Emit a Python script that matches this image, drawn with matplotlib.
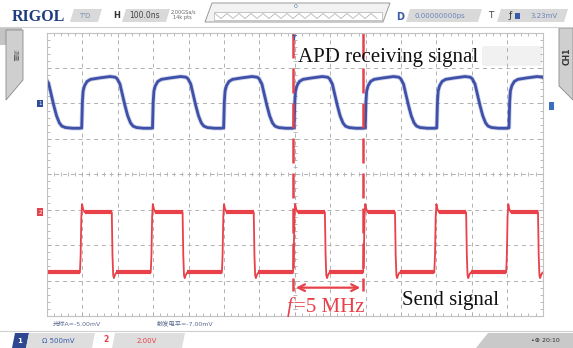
"""Rigol scope screenshot: APD receiving signal vs send signal at 5 MHz."""
import numpy as np
import matplotlib.pyplot as plt
from matplotlib.patches import Polygon, Rectangle, FancyBboxPatch

plt.rcParams['font.family'] = ['DejaVu Sans', 'Noto Sans CJK SC']

# time axis: 100 ns/div, 14 divisions; vertical: 8 divisions
t_span = (-700, 700)
v_span = (-4, 4)

# CH1 (APD) one period, relative to its rising edge: time ns, level div
blue_shape_t = [0, 2, 4, 8, 15, 25, 50, 80, 95, 100, 108, 115, 122, 130, 138, 145, 155, 175, 195]
blue_shape_v = [1.31, 2.05, 2.35, 2.5, 2.62, 2.68, 2.72, 2.76, 2.74, 2.7, 2.55, 2.25, 1.95,
                1.65, 1.45, 1.36, 1.32, 1.30, 1.30]
blue_rises = [-803, -602, -402, -201, -2, 199, 401, 605]

# CH2 (send) one period, relative to its rising edge
red_shape_t = [0, 2, 4, 6, 9, 13, 90, 92, 94, 96, 99, 103, 195]
red_shape_v = [-2.77, -2.3, -1.2, -0.84, -0.98, -1.07, -1.07, -2.3, -2.85, -2.93, -2.84, -2.77, -2.77]
red_rises = [-808, -607, -407, -206, -5, 193, 394, 597]
red_high, red_low = -1.07, -2.77

cursor_t = [-5, 193]
ch1_ref, ch2_ref = 2.0, -1.07

blue_t = np.concatenate([r + np.array(blue_shape_t) for r in blue_rises])
blue_v = np.tile(blue_shape_v, len(blue_rises))
red_t = np.concatenate([r + np.array(red_shape_t) for r in red_rises])
red_v = np.tile(red_shape_v, len(red_rises))

BLUE = '#3e50a8'
RED = '#e8414a'
GRID = '#b0b0b0'

fig = plt.figure(figsize=(5.73, 3.48), dpi=100)
ui = fig.add_axes([0, 0, 1, 1])
ui.set_xlim(0, 573)
ui.set_ylim(348, 0)
ui.axis('off')


def tab(x0, x1, y0, y1, s, fc='#d9d9d9', ec='none'):
    ui.add_patch(Polygon([(x0, y1), (x0 + s, y0), (x1 + s, y0), (x1, y1)],
                         closed=True, fc=fc, ec=ec, lw=0.6))


# ---- top status bar ----
ui.text(12, 17, 'RIGOL', family='Liberation Serif', weight='bold', fontsize=11.5,
        color='#1f3d7e', va='center')
tab(70, 98, 9, 22, 4)
ui.text(85, 16, "T'D", fontsize=5, color='#8090b0', ha='center', va='center')
ui.text(117, 16, 'H', fontsize=6, weight='bold', color='#333333', ha='center', va='center')
tab(122, 166, 9, 22, 4)
ui.text(145, 16, '100.0ns', fontsize=5.5, color='#444444', ha='center', va='center')
ui.text(171, 12, '2.00GSa/s', fontsize=3.6, color='#666666', va='center')
ui.text(173, 18, '14k pts', fontsize=3.6, color='#666666', va='center')
ui.add_patch(Polygon([(205, 22), (212, 3), (390, 3), (383, 22)], closed=True,
                     fc='#f2f2f2', ec='#9a9a9a', lw=0.7))
ui.add_patch(Rectangle((214, 12), 168, 8, fc='white', ec='#b0b0b0', lw=0.5))
zig_x = np.arange(215, 382, 6)
ui.plot(zig_x, np.where(np.arange(len(zig_x)) % 2 == 0, 13.5, 18.5), color='#b5b5b5', lw=0.6)
ui.text(296, 7, '0', fontsize=4.5, color='#6078a8', ha='center', va='center')
ui.text(400, 17, 'D', fontsize=7, color='#3a5aa8', ha='center', va='center', weight='bold')
tab(406, 478, 9, 22, 4)
ui.text(440, 16, '0.00000000ps', fontsize=5, color='#6a84bb', ha='center', va='center')
ui.text(491, 16, 'T', fontsize=6.5, color='#444444', ha='center', va='center')
tab(497, 564, 9, 22, 4)
ui.text(510, 16, 'ƒ', fontsize=6.5, color='#333333', ha='center', va='center')
ui.add_patch(Rectangle((515, 12.5), 5, 6, fc='#3a5aa8'))
ui.text(530, 16, '3.23mV', fontsize=5, color='#6a84bb', va='center')
ui.plot([0, 573], [27, 27], color='#d0d0d0', lw=0.8)

# ---- side tabs ----
ui.add_patch(Rectangle((0, 27), 22, 18, fc='#c4c4c4'))
ui.add_patch(Polygon([(6, 30), (23, 30), (23, 80), (6, 100)], closed=True,
                     fc='#cfcfcf', ec='#8a8a8a', lw=0.6))
ui.text(14, 55, '测量', fontsize=4.5, color='#666666', rotation=270,
        ha='center', va='center')
ui.add_patch(Polygon([(559, 28), (573, 28), (573, 100), (559, 86)], closed=True,
                     fc='#cfcfcf', ec='#8a8a8a', lw=0.6))
ui.text(567, 56, 'CH1', fontsize=5.5, weight='bold', color='#333333', rotation=90,
        ha='center', va='center')

# ---- bottom bar ----
ui.text(53, 324, '光标A=-5.00mV', fontsize=4.5, color='#5a6a90', va='center')
ui.text(157, 324, '触发电平=-7.00mV', fontsize=4.5, color='#5a6a90', va='center')
ui.plot([0, 573], [331, 331], color='#cfcfcf', lw=0.8)
tab(12, 26, 333, 348, 3, fc='#2d4790')
ui.text(20, 341, '1', fontsize=5, color='white', ha='center', va='center', weight='bold')
tab(26, 92, 333, 348, 3, fc='#dedede')
ui.text(42, 341, 'Ω 500mV', fontsize=5, color='#3a5aa8', va='center')
ui.text(106, 340, '2', fontsize=5.5, color=RED, ha='center', va='center', weight='bold')
tab(112, 182, 333, 348, 3, fc='#dedede')
ui.text(147, 341, '2.00V', fontsize=5, color=RED, ha='center', va='center')
ui.add_patch(Polygon([(476, 348), (488, 333), (573, 333), (573, 348)], closed=True,
                     fc='#c9c9c9'))
ui.text(560, 341, '•⊕ 20:10', fontsize=4.5, color='#333333', ha='right', va='center')

# smudge after the APD label
ui.add_patch(FancyBboxPatch((484, 48), 56, 16, boxstyle='round,pad=2',
                            fc='#eeeeee', ec='none', alpha=0.8))

# ---- graticule ----
ax = fig.add_axes([47 / 573, 1 - 316 / 348, (542.6 - 47) / 573, (316 - 32.6) / 348])
ax.set_facecolor('none')
ax.set_xlim(*t_span)
ax.set_ylim(*v_span)
ax.set_xticks(np.arange(-700, 701, 100))
ax.set_yticks(np.arange(-4, 5, 1))
ax.set_xticks(np.arange(-700, 701, 20), minor=True)
ax.set_yticks(np.arange(-4, 4.01, 0.2), minor=True)
ax.tick_params(which='both', direction='in', top=True, right=True, color=GRID,
               labelbottom=False, labelleft=False, width=0.6)
ax.tick_params(which='major', length=3)
ax.tick_params(which='minor', length=2)
for sp in ax.spines.values():
    sp.set_color('#c2c2c2')
    sp.set_linewidth(0.8)
for tv in np.arange(-600, 601, 100):
    ax.axvline(tv, color=GRID, lw=0.7, dashes=(4, 4))
for vv in np.arange(-3, 4, 1):
    ax.axhline(vv, color=GRID, lw=0.7, dashes=(4, 4))
minor_t = np.arange(-680, 681, 20)
minor_v = np.arange(-3.8, 3.81, 0.2)
ax.plot(minor_t, np.zeros_like(minor_t), ls='none', marker='|', ms=3.5, mew=0.6, color=GRID)
ax.plot(np.zeros_like(minor_v), minor_v, ls='none', marker='_', ms=3.5, mew=0.6, color=GRID)

# ---- traces ----
ax.plot(blue_t, blue_v, color=BLUE, lw=3.2, alpha=0.25, solid_joinstyle='round')
ax.plot(blue_t, blue_v, color=BLUE, lw=2.0, solid_joinstyle='round')
ax.plot(red_t, red_v, color=RED, lw=1.3)
plateau = np.where(np.isclose(red_v, red_high) | np.isclose(red_v, red_low), red_v, np.nan)
ax.plot(red_t, plateau, color=RED, lw=3.0, solid_capstyle='butt')

# cursors and annotation
for ct in cursor_t:
    ax.plot([ct, ct], [4, -3.3], color=RED, lw=1.8, dashes=(10, 4))
ax.annotate('', xy=(cursor_t[0], -3.2), xytext=(cursor_t[1], -3.2),
            arrowprops=dict(arrowstyle='<->', color=RED, lw=1.6, mutation_scale=12))

# channel reference markers
ax.text(-720, ch1_ref, '1', fontsize=4, color='white', ha='center', va='center',
        bbox=dict(boxstyle='square,pad=0.25', fc='#2d4d9a', ec='none'))
ax.text(-720, ch2_ref, '2', fontsize=4, color='white', ha='center', va='center',
        bbox=dict(boxstyle='square,pad=0.25', fc=RED, ec='none'))
ax.text(725, 1.93, ' ', fontsize=4, ha='center', va='center',
        bbox=dict(boxstyle='square,pad=0.25', fc='#3a6fc0', ec='none'))
ax.text(0, 3.85, 'T', fontsize=5, color='#3a5aa8', ha='center', va='center', weight='bold')

ax.text(10, 3.17, 'APD receiving signal', family='Liberation Serif', fontsize=15,
        color='#111111', va='baseline')
ax.text(303, -3.68, 'Send signal', family='Liberation Serif', fontsize=15,
        color='#111111', va='baseline')
ax.text(-24, -3.9, 'f', family='Liberation Serif', style='italic', fontsize=15,
        color=RED, va='baseline')
ax.text(-1, -3.9, '=5 MHz', family='Liberation Serif', fontsize=15,
        color=RED, va='baseline')

fig.savefig('out.png', dpi=100)
